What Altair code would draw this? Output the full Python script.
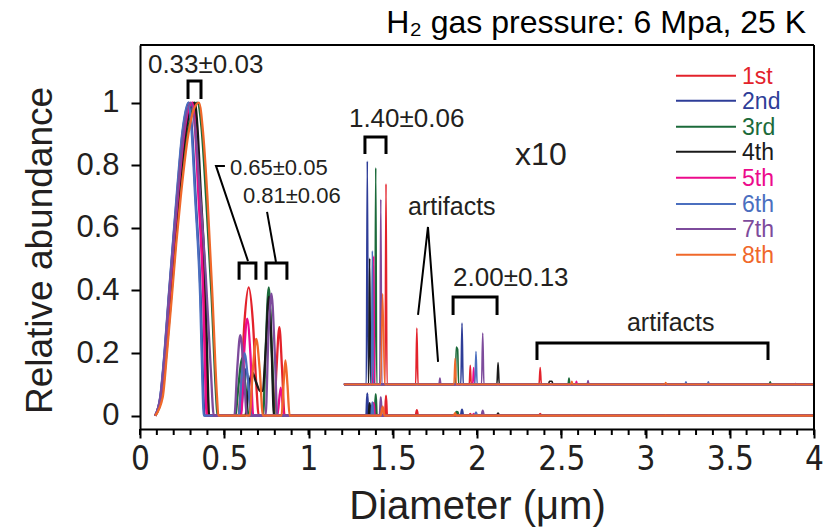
import altair as alt
import pandas as pd

# ---------------- data ----------------
SERIES = ["1st", "2nd", "3rd", "4th", "5th", "6th", "7th", "8th"]
COLORS = ["#e3222b", "#2e3d98", "#1b6a3a", "#1a1a1a", "#ec0b8c", "#4b6fbf", "#7d4b9c", "#f0682a"]

S1 = [(0.09,0),(0.124,0.06),(0.15,0.2),(0.177,0.38),(0.203,0.55),(0.23,0.72),(0.266,0.9),(0.315,1.0),
      (0.33,0.93),(0.352,0.72),(0.382,0.38),(0.397,0.06),(0.402,0),
      (0.58,0),(0.60,0.1),(0.62,0.3),(0.645,0.41),(0.67,0.3),(0.69,0.1),(0.705,0),
      (0.795,0),(0.81,0.15),(0.827,0.283),(0.843,0.15),(0.858,0),
      (1.21,0),(1.454,0),(1.46,0.0641),(1.466,0),(1.636,0),(1.643,0.018),(1.65,0),
      (1.954,0),(1.96,0.0061),(1.966,0),(2.368,0),(2.375,0.0054),(2.382,0),(4.0,0)]
S2 = [(0.09,0),(0.121,0.06),(0.146,0.2),(0.171,0.38),(0.196,0.55),(0.222,0.72),(0.252,0.9),(0.29,1.0),
      (0.308,0.92),(0.33,0.7),(0.36,0.38),(0.377,0.06),(0.383,0),
      (0.595,0),(0.612,0.08),(0.63,0.15),(0.648,0.08),(0.665,0),
      (1.21,0),(1.343,0),(1.349,0.0713),(1.355,0),(1.904,0),(1.911,0.0196),(1.918,0),(4.0,0)]
S3 = [(0.09,0),(0.13,0.06),(0.157,0.2),(0.185,0.38),(0.211,0.55),(0.238,0.72),(0.28,0.9),(0.34,1.0),
      (0.365,0.92),(0.392,0.70),(0.425,0.38),(0.452,0.06),(0.46,0),
      (0.565,0),(0.585,0.1),(0.605,0.183),(0.625,0.1),(0.645,0),
      (0.73,0),(0.745,0.2),(0.764,0.41),(0.783,0.2),(0.80,0),
      (1.21,0),(1.393,0),(1.399,0.0692),(1.405,0),(1.871,0),(1.877,0.0119),(1.885,0.0112),(1.891,0),
      (2.54,0),(2.546,0.002),(2.552,0),(3.733,0),(3.74,0.0008),(3.747,0),(4.0,0)]
S4 = [(0.09,0),(0.125,0.06),(0.152,0.2),(0.179,0.38),(0.206,0.55),(0.233,0.72),(0.27,0.9),(0.325,1.0),
      (0.34,0.93),(0.36,0.72),(0.39,0.38),(0.405,0.06),(0.41,0),
      (0.625,0),(0.645,0.09),(0.665,0.14),(0.69,0.105),(0.715,0.078),(0.728,0.08),
      (0.745,0.2),(0.765,0.38),(0.782,0.2),(0.795,0),
      (1.21,0),(1.357,0),(1.363,0.0403),(1.369,0),(2.118,0),(2.125,0.007),(2.132,0),
      (2.424,0),(2.43,0.001),(2.445,0.001),(2.451,0),(4.0,0)]
S5 = [(0.09,0),(0.123,0.06),(0.149,0.2),(0.175,0.38),(0.2,0.55),(0.228,0.72),(0.262,0.9),(0.31,1.0),
      (0.325,0.93),(0.345,0.72),(0.375,0.38),(0.39,0.06),(0.395,0),
      (0.60,0),(0.618,0.2),(0.636,0.31),(0.655,0.2),(0.672,0),
      (0.815,0),(0.835,0.09),(0.855,0),
      (1.21,0),(1.381,0),(1.387,0.041),(1.393,0),(1.974,0),(1.98,0.0054),(1.986,0),
      (2.584,0),(2.59,0.001),(2.596,0),(3.884,0),(3.89,0.0003),(3.896,0),(4.0,0)]
S6 = [(0.09,0),(0.12,0.06),(0.145,0.2),(0.17,0.38),(0.195,0.55),(0.22,0.72),(0.25,0.9),(0.287,1.0),
      (0.305,0.92),(0.327,0.70),(0.357,0.38),(0.373,0.06),(0.378,0),
      (0.585,0),(0.603,0.12),(0.62,0.2),(0.64,0.12),(0.66,0),
      (1.21,0),(1.373,0),(1.379,0.0427),(1.385,0),(1.987,0),(1.994,0.0105),(2.001,0),
      (3.234,0),(3.24,0.0008),(3.246,0),(3.367,0),(3.373,0.0008),(3.379,0),(4.0,0)]
S7 = [(0.09,0),(0.121,0.06),(0.147,0.2),(0.172,0.38),(0.198,0.55),(0.225,0.72),(0.258,0.9),(0.30,1.0),
      (0.325,0.93),(0.355,0.72),(0.39,0.45),(0.42,0.15),(0.438,0),
      (0.56,0),(0.577,0.15),(0.595,0.257),(0.615,0.15),(0.635,0),
      (0.745,0),(0.762,0.25),(0.78,0.39),(0.80,0.2),(0.815,0),
      (1.21,0),(1.423,0),(1.429,0.0591),(1.435,0),(1.774,0),(1.78,0.002),(1.786,0),
      (2.027,0),(2.034,0.0164),(2.041,0),(2.653,0),(2.659,0.0012),(2.665,0),(4.0,0)]
S8 = [(0.09,0),(0.135,0.06),(0.16,0.2),(0.189,0.38),(0.215,0.55),(0.242,0.70),(0.287,0.9),(0.32,0.98),(0.35,1.0),
      (0.375,0.9),(0.40,0.70),(0.43,0.38),(0.457,0.06),(0.465,0),
      (0.65,0),(0.67,0.15),(0.69,0.245),(0.71,0.15),(0.73,0),
      (0.84,0),(0.852,0.1),(0.863,0.177),(0.875,0.1),(0.888,0),
      (1.21,0),(1.428,0),(1.44,0.029),(1.452,0),(1.863,0),(1.87,0.0083),(1.877,0),
      (2.557,0),(2.563,0.001),(2.569,0),(3.114,0),(3.12,0.0006),(3.126,0),(4.0,0)]
ALL_SERIES = [S1, S2, S3, S4, S5, S6, S7, S8]

X10_START = 1.21   # magnified (x10) region starts here
X10_OFFSET = 0.1
X10_FACTOR = 10

X_MAJOR = [0, 0.5, 1, 1.5, 2, 2.5, 3, 3.5, 4]
X_MINOR = [round(i * 0.1, 1) for i in range(41)]
Y_TICKS = [0, 0.2, 0.4, 0.6, 0.8, 1]

# annotation texts (position in data units)
ANN_TEXT = ["0.33\u00b10.03", "0.65\u00b10.05", "0.81\u00b10.06", "1.40\u00b10.06", "x10",
            "artifacts", "2.00\u00b10.13", "artifacts"]
ANN_TX = [0.047, 0.534, 0.611, 1.240, 2.226, 1.591, 1.858, 2.890]
ANN_TY = [1.095, 0.769, 0.680, 0.922, 0.801, 0.641, 0.414, 0.271]
ANN_SIZE = [26, 22, 22, 26, 32, 25, 26, 25]

# annotation brackets / leader lines
ANN_PATHS = [
    [(0.285, 1.012), (0.285, 1.069), (0.362, 1.069), (0.362, 1.012)],
    [(0.588, 0.434), (0.588, 0.488), (0.688, 0.488), (0.688, 0.434)],
    [(0.748, 0.434), (0.748, 0.488), (0.872, 0.488), (0.872, 0.434)],
    [(0.504, 0.798), (0.451, 0.798), (0.641, 0.494)],
    [(0.754, 0.651), (0.807, 0.491)],
    [(1.335, 0.836), (1.335, 0.890), (1.460, 0.890), (1.460, 0.836)],
    [(1.650, 0.322), (1.709, 0.603), (1.769, 0.172)],
    [(1.858, 0.322), (1.858, 0.379), (2.119, 0.379), (2.119, 0.322)],
    [(2.356, 0.178), (2.356, 0.232), (3.727, 0.232), (3.727, 0.178)],
]
ANN_WIDTHS = [3, 3, 3, 2, 2, 3, 2, 3, 3]

# legend placement (data units)
LEG_Y = [1.0863, 1.0064, 0.9233, 0.8435, 0.7604, 0.6764, 0.5965, 0.5144]
LEG_X1, LEG_X2, LEG_TX = 3.181, 3.537, 3.573

TITLE = "H\u2082 gas pressure: 6 Mpa, 25 K"
TITLE_X, TITLE_Y = 3.953, 1.223

# ---------------- frames ----------------
rows = []
for name, pts in zip(SERIES, ALL_SERIES):
    for i, (x, y) in enumerate(sorted(pts)):
        rows.append({"series": name, "x": x, "y": y, "i": i})
df = pd.DataFrame(rows)

ann_rows = []
for k, (pts, w) in enumerate(zip(ANN_PATHS, ANN_WIDTHS)):
    for i, (x, y) in enumerate(pts):
        ann_rows.append({"k": k, "i": i, "x": x, "y": y, "w": w})
ann_df = pd.DataFrame(ann_rows)

txt_df = pd.DataFrame({"t": ANN_TEXT, "x": ANN_TX, "y": ANN_TY, "s": ANN_SIZE})
leg_df = pd.DataFrame({"series": SERIES, "y": LEG_Y, "x1": LEG_X1, "x2": LEG_X2, "tx": LEG_TX})
minor_df = pd.DataFrame({"t": X_MINOR})
title_df = pd.DataFrame({"t": [TITLE], "x": [TITLE_X], "y": [TITLE_Y]})

W, H = 674, 384
xs = alt.Scale(domain=[0, 4], nice=False)
ys = alt.Scale(domain=[-0.0425, 1.1843], nice=False, zero=False)
color = alt.Color("series:N", scale=alt.Scale(domain=SERIES, range=COLORS), legend=None)
INK = "#231f20"

x_axis = alt.Axis(values=X_MAJOR, format="~g", tickSize=9, tickWidth=2, tickColor="black",
                  domainColor="black", domainWidth=2, grid=False,
                  labelFont="'DejaVu Sans Condensed', 'Liberation Sans'", labelFontSize=33,
                  labelColor=INK, labelPadding=5, labelOverlap=False, labelFlush=False,
                  title="Diameter (\u03bcm)", titleFont="Liberation Sans", titleFontSize=40,
                  titleFontWeight="normal", titleColor=INK, titleY=89, titleBaseline="alphabetic")
y_axis = alt.Axis(values=Y_TICKS, format="~g", tickSize=9, tickWidth=2, tickColor="black",
                  domainColor="black", domainWidth=2, grid=False,
                  labelFont="Liberation Sans", labelFontSize=31, labelColor=INK, labelPadding=12,
                  labelOverlap=False, labelFlush=False,
                  title="Relative abundance", titleFont="Liberation Sans", titleFontSize=37,
                  titleFontWeight="normal", titleColor=INK, titleX=-89, titleY=205,
                  titleAngle=-90, titleBaseline="alphabetic", titleAlign="center")


def X(field):
    return alt.X(field, scale=xs, axis=x_axis)


def Y(field):
    return alt.Y(field, scale=ys, axis=y_axis)


raw = alt.Chart(df).mark_line(strokeWidth=2.3, interpolate="monotone").encode(
    x=X("x:Q"), y=Y("y:Q"), color=color, order="i:Q")

x10 = alt.Chart(df).transform_filter(alt.datum.x >= X10_START).transform_calculate(
    y10=f"datum.y * {X10_FACTOR} + {X10_OFFSET}"
).mark_line(strokeWidth=1.6, interpolate="monotone").encode(
    x=X("x:Q"), y=Y("y10:Q"), color=color, order="i:Q")

minor = alt.Chart(minor_df).mark_rule(color="black", strokeWidth=2).encode(
    x=X("t:Q"), y=alt.value(H), y2=alt.value(H + 6))

frame = alt.Chart(title_df).mark_rule(color="black", strokeWidth=2).encode(
    x=alt.value(W), y=alt.value(0), y2=alt.value(H))
frame_top = alt.Chart(title_df).mark_rule(color="black", strokeWidth=2).encode(
    x=alt.value(0), x2=alt.value(W), y=alt.value(0))

paths = alt.Chart(ann_df).mark_line(color="black", strokeJoin="miter", strokeCap="butt").encode(
    x=X("x:Q"), y=Y("y:Q"),
    detail="k:N", order="i:Q", strokeWidth=alt.StrokeWidth("w:Q", scale=None))

texts = alt.Chart(txt_df).mark_text(align="left", baseline="alphabetic", font="Liberation Sans",
                                    color=INK).encode(
    x=X("x:Q"), y=Y("y:Q"), text="t:N", size=alt.Size("s:Q", scale=None))

leg_lines = alt.Chart(leg_df).mark_rule(strokeWidth=2).encode(
    x=X("x1:Q"), x2="x2:Q", y=Y("y:Q"), color=color)

leg_text = alt.Chart(leg_df).mark_text(align="left", baseline="middle", font="Liberation Sans",
                                       fontSize=23, dy=1).encode(
    x=X("tx:Q"), y=Y("y:Q"), text="series:N", color=color)

title = alt.Chart(title_df).mark_text(align="right", baseline="alphabetic", font="Liberation Sans",
                                      fontSize=32, color="black").encode(
    x=X("x:Q"), y=Y("y:Q"), text="t:N")

chart = alt.layer(raw, x10, minor, frame, frame_top, paths, texts, leg_lines, leg_text, title).properties(
    width=W, height=H,
    padding={"left": 140, "top": 45, "right": 12, "bottom": 100},
    autosize=alt.AutoSizeParams(type="none"),
    background="white",
).configure_view(stroke=None)

chart.save("out.html", embed_options={"renderer": "svg", "actions": False})
